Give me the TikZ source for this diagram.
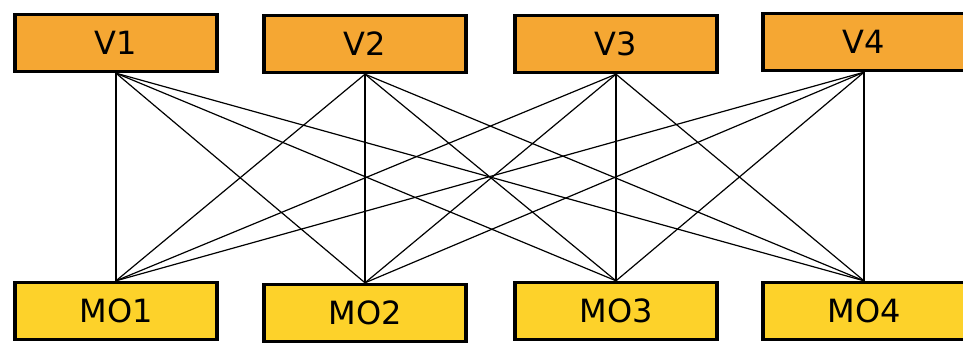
\documentclass[tikz,border=0pt]{standalone}
\usepackage{fontspec}
\setmainfont{DejaVu Sans}
\definecolor{vorange}{HTML}{F5A733}
\definecolor{myellow}{HTML}{FDD22A}
\begin{document}
\begin{tikzpicture}[x=1pt,y=-1pt,
  box/.style={draw=black,line width=3.4pt,minimum width=202pt,minimum height=57pt,inner sep=0pt,
    font=\fontsize{32}{32}\selectfont},
  vbox/.style={box,fill=vorange},
  mbox/.style={box,fill=myellow},
  link/.style={draw=black,line width=1.2pt}]
\useasboundingbox (0,0) rectangle (963,347);
\node[vbox] (v1) at (116,43) {V1};
\node[vbox] (v2) at (365,44) {V2};
\node[vbox] (v3) at (616,44) {V3};
\node[vbox] (v4) at (864,42) {V4};
\node[mbox] (m1) at (116,311) {MO1};
\node[mbox] (m2) at (365,313) {MO2};
\node[mbox] (m3) at (616,311) {MO3};
\node[mbox] (m4) at (864,311) {MO4};
\foreach \a in {1,2,3,4}{
  \foreach \b in {1,2,3,4}{
    \draw[link] (v\a.south) -- (m\b.north);
  }
}
\end{tikzpicture}
\end{document}
